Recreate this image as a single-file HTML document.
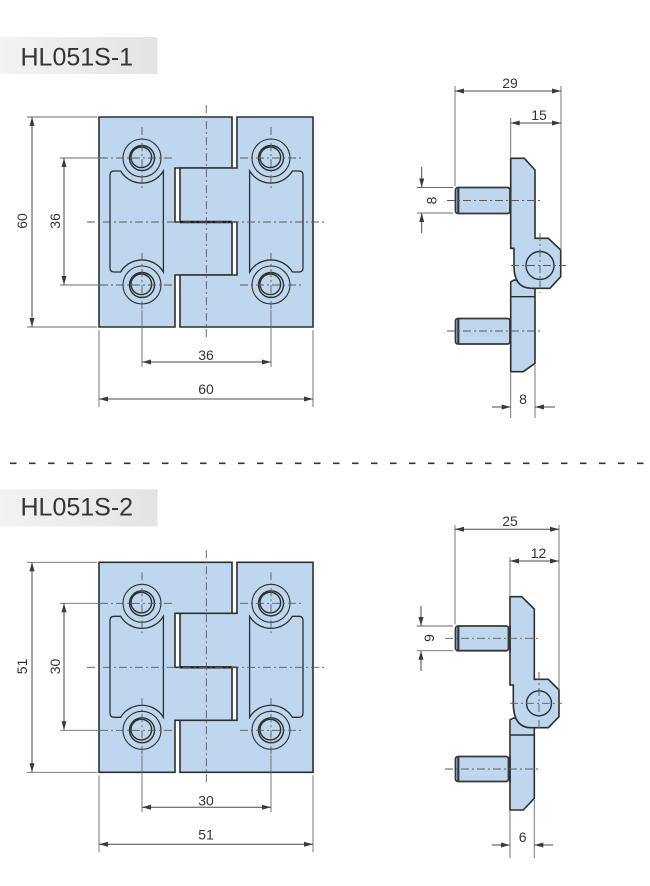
<!DOCTYPE html>
<html>
<head>
<meta charset="utf-8">
<style>
  html,body{margin:0;padding:0;background:#fff;}
  svg{display:block;}
  .part{fill:#bed7ef;stroke:#2e2e2e;stroke-width:1.6;stroke-linejoin:miter;}
  .pk{fill:none;stroke:#2e2e2e;stroke-width:1.3;}
  .hole{fill:none;stroke:#2e2e2e;stroke-width:1.1;}
  .hole2{fill:none;stroke:#2e2e2e;stroke-width:1.4;}
  .dim{stroke:#4a4a4a;stroke-width:1;fill:none;}
  .ext{stroke:#6a6a6a;stroke-width:0.9;fill:none;}
  .cl{stroke:#5a5a5a;stroke-width:0.9;fill:none;stroke-dasharray:8 3 2 3;}
  .ah{fill:#3a3a3a;stroke:none;}
  .t{font-family:"Liberation Sans",sans-serif;font-size:14px;fill:#333;}
  .lbl{font-family:"Liberation Sans",sans-serif;font-size:25px;fill:#333;}
  .screw{fill:#bed7ef;stroke:#383838;stroke-width:1.8;}
</style>
</head>
<body>
<svg width="650" height="886" viewBox="0 0 650 886" xmlns="http://www.w3.org/2000/svg">
  <defs>
    <linearGradient id="lg" x1="0" y1="0" x2="1" y2="0">
      <stop offset="0" stop-color="#f3f3f3"/>
      <stop offset="1" stop-color="#e3e3e3"/>
    </linearGradient>
    <g id="front">
      <!-- leaves -->
      <path class="part" d="M99,117 L232,117 L232,168 L175,168 L175,222 L232,222 L232,275 L175,275 L175,327 L99,327 Z"/>
      <path class="part" d="M237,117 L313,117 L313,327 L180,327 L180,275 L237,275 L237,222 L180,222 L180,168 L237,168 Z"/>
      <line x1="180" y1="222" x2="232" y2="222" stroke="#1e1e1e" stroke-width="2.4"/>
      <!-- pockets -->
      <path class="pk" d="M110,175 Q110,171 114,171 L120.6,171 A25 25 0 0 0 163.4,171 L163.4,272 A25 25 0 0 0 120.6,272 L114,272 Q110,272 110,268 Z"/>
      <path class="pk" d="M303,175 Q303,171 299,171 L292.4,171 A25 25 0 0 1 249.6,171 L249.6,272 A25 25 0 0 1 292.4,272 L299,272 Q303,272 303,268 Z"/>
      <!-- holes -->
      <g>
        <circle class="hole" cx="142" cy="158" r="19"/>
        <circle class="hole2" cx="142" cy="158" r="12.5"/>
        <circle class="hole2" cx="141.3" cy="157.3" r="10.3"/>
        <circle class="hole" cx="271" cy="158" r="19"/>
        <circle class="hole2" cx="271" cy="158" r="12.5"/>
        <circle class="hole2" cx="270.3" cy="157.3" r="10.3"/>
        <circle class="hole" cx="142" cy="285" r="19"/>
        <circle class="hole2" cx="142" cy="285" r="12.5"/>
        <circle class="hole2" cx="141.3" cy="284.3" r="10.3"/>
        <circle class="hole" cx="271" cy="285" r="19"/>
        <circle class="hole2" cx="271" cy="285" r="12.5"/>
        <circle class="hole2" cx="270.3" cy="284.3" r="10.3"/>
      </g>
      <!-- center lines -->
      <line class="cl" x1="206.3" y1="105" x2="206.3" y2="340"/>
      <line class="cl" x1="87" y1="222" x2="325" y2="222"/>
      <line class="cl" x1="100" y1="158" x2="172" y2="158"/>
      <line class="cl" x1="100" y1="285" x2="172" y2="285"/>
      <line class="cl" x1="240" y1="158" x2="302" y2="158"/>
      <line class="cl" x1="240" y1="285" x2="302" y2="285"/>
      <line class="cl" x1="142" y1="127" x2="142" y2="188"/>
      <line class="cl" x1="271" y1="127" x2="271" y2="188"/>
      <line class="cl" x1="142" y1="253" x2="142" y2="310"/>
      <line class="cl" x1="271" y1="253" x2="271" y2="310"/>
      <!-- extension lines -->
      <line class="ext" x1="27" y1="117" x2="97" y2="117"/>
      <line class="ext" x1="27" y1="327" x2="97" y2="327"/>
      <line class="ext" x1="60" y1="158" x2="100" y2="158"/>
      <line class="ext" x1="60" y1="285" x2="100" y2="285"/>
      <line class="ext" x1="142" y1="310" x2="142" y2="367"/>
      <line class="ext" x1="271" y1="310" x2="271" y2="367"/>
      <line class="ext" x1="99" y1="330" x2="99" y2="407"/>
      <line class="ext" x1="313" y1="330" x2="313" y2="407"/>
      <!-- dimension lines -->
      <line class="dim" x1="32" y1="117" x2="32" y2="327"/>
      <polygon class="ah" points="32,117 29.5,126 34.5,126"/>
      <polygon class="ah" points="32,327 29.5,318 34.5,318"/>
      <line class="dim" x1="64" y1="158" x2="64" y2="285"/>
      <polygon class="ah" points="64,158 61.5,167 66.5,167"/>
      <polygon class="ah" points="64,285 61.5,276 66.5,276"/>
      <line class="dim" x1="142" y1="362" x2="271" y2="362"/>
      <polygon class="ah" points="142,362 151,359.5 151,364.5"/>
      <polygon class="ah" points="271,362 262,359.5 262,364.5"/>
      <line class="dim" x1="99" y1="399" x2="313" y2="399"/>
      <polygon class="ah" points="99,399 108,396.5 108,401.5"/>
      <polygon class="ah" points="313,399 304,396.5 304,401.5"/>
    </g>
  </defs>

  <!-- ============ HL051S-1 ============ -->
  <rect x="0" y="37" width="157.5" height="37" fill="url(#lg)"/>
  <text class="lbl" x="20.5" y="65.7">HL051S-1</text>

  <use href="#front"/>
  <text class="t" transform="translate(27,221) rotate(-90)" text-anchor="middle">60</text>
  <text class="t" transform="translate(60,221) rotate(-90)" text-anchor="middle">36</text>
  <text class="t" x="206" y="360" text-anchor="middle">36</text>
  <text class="t" x="206" y="394" text-anchor="middle">60</text>

  <!-- side view S-1 -->
  <path class="part" d="M514,280 L510.7,282 L510.7,371.7 L523.3,371.7 L535,363.3 L535,284 Z"/>
  <line x1="510.7" y1="296.7" x2="535" y2="296.7" stroke="#2e2e2e" stroke-width="1.4"/>
  <path class="part" d="M510.7,158.3 L524.3,158.3 L535,170 L535,238.3 L548.3,238.3 L560.7,250 L560.7,276.7 L550,288.3 L531,288.3 Q514,288 514,266 L514,248.3 L510.7,248.3 Z"/>
  <circle class="hole2" cx="540" cy="265.5" r="14"/>
  <rect class="screw" x="455.5" y="187.5" width="54.5" height="26" rx="2.5"/>
  <line x1="458.3" y1="188" x2="458.3" y2="213" stroke="#383838" stroke-width="2.2"/>
  <rect class="screw" x="455.5" y="318.5" width="54.5" height="25.5" rx="2.5"/>
  <line x1="458.3" y1="319" x2="458.3" y2="343.5" stroke="#383838" stroke-width="2.2"/>
  <line x1="510.7" y1="187" x2="510.7" y2="214" stroke="#2e2e2e" stroke-width="1.6"/>
  <line x1="510.7" y1="318" x2="510.7" y2="344.5" stroke="#2e2e2e" stroke-width="1.6"/>
  <!-- centerlines -->
  <line class="cl" x1="447" y1="200.5" x2="541" y2="200.5"/>
  <line class="cl" x1="447" y1="331" x2="541" y2="331"/>
  <line class="cl" x1="511" y1="265.5" x2="566" y2="265.5"/>
  <line class="cl" x1="540" y1="233" x2="540" y2="293"/>
  <!-- dims -->
  <line class="ext" x1="455" y1="86" x2="455" y2="186"/>
  <line class="ext" x1="561" y1="86" x2="561" y2="250"/>
  <line class="ext" x1="510.7" y1="118" x2="510.7" y2="157"/>
  <line class="dim" x1="455" y1="91" x2="561" y2="91"/>
  <polygon class="ah" points="455,91 464,88.5 464,93.5"/>
  <polygon class="ah" points="561,91 552,88.5 552,93.5"/>
  <text class="t" x="510" y="88" text-anchor="middle">29</text>
  <line class="dim" x1="510.7" y1="123" x2="561" y2="123"/>
  <polygon class="ah" points="510.7,123 519.7,120.5 519.7,125.5"/>
  <polygon class="ah" points="561,123 552,120.5 552,125.5"/>
  <text class="t" x="539" y="120" text-anchor="middle">15</text>
  <line class="ext" x1="417" y1="187.5" x2="453" y2="187.5"/>
  <line class="ext" x1="417" y1="213" x2="453" y2="213"/>
  <line class="dim" x1="421.7" y1="167" x2="421.7" y2="187.5"/>
  <line class="dim" x1="421.7" y1="213" x2="421.7" y2="233"/>
  <polygon class="ah" points="421.7,187.5 419.2,178.5 424.2,178.5"/>
  <polygon class="ah" points="421.7,213 419.2,222 424.2,222"/>
  <text class="t" transform="translate(436.5,200.5) rotate(-90)" text-anchor="middle">8</text>
  <line class="ext" x1="510.7" y1="373" x2="510.7" y2="418"/>
  <line class="ext" x1="535" y1="365" x2="535" y2="418"/>
  <line class="dim" x1="492" y1="407" x2="510.7" y2="407"/>
  <line class="dim" x1="535" y1="407" x2="555" y2="407"/>
  <polygon class="ah" points="510.7,407 501.7,404.5 501.7,409.5"/>
  <polygon class="ah" points="535,407 544,404.5 544,409.5"/>
  <text class="t" x="523" y="404" text-anchor="middle">8</text>

  <!-- separator -->
  <line x1="10" y1="463.3" x2="645" y2="463.3" stroke="#333" stroke-width="1.6" stroke-dasharray="6.5 12.5"/>

  <!-- ============ HL051S-2 ============ -->
  <rect x="0" y="489.3" width="157.5" height="37" fill="url(#lg)"/>
  <text class="lbl" x="20.5" y="515.3">HL051S-2</text>

  <g transform="translate(0,445.3)">
    <use href="#front"/>
  </g>
  <text class="t" transform="translate(27,666.5) rotate(-90)" text-anchor="middle">51</text>
  <text class="t" transform="translate(60,666.5) rotate(-90)" text-anchor="middle">30</text>
  <text class="t" x="206" y="805.5" text-anchor="middle">30</text>
  <text class="t" x="206" y="839.5" text-anchor="middle">51</text>

  <!-- side view S-2 -->
  <path class="part" d="M513.3,718 L510,720 L510,810 L523.3,810 L534.3,798.3 L534.3,722 Z"/>
  <line x1="510" y1="735" x2="534.3" y2="735" stroke="#2e2e2e" stroke-width="1.4"/>
  <path class="part" d="M510,596.7 L521.7,596.7 L534.3,609 L534.3,679.3 L548.3,679.3 L559,690 L559,716.7 L548.3,727.7 L530,727.7 Q513.3,727 513.3,703 L513.3,685 L510,685 Z"/>
  <circle class="hole2" cx="539" cy="703.3" r="12.5"/>
  <rect class="screw" x="455.5" y="626" width="53" height="24.7" rx="2.5"/>
  <line x1="458.3" y1="626.5" x2="458.3" y2="650.2" stroke="#383838" stroke-width="2.2"/>
  <rect class="screw" x="455.5" y="756.5" width="53" height="25" rx="2.5"/>
  <line x1="458.3" y1="757" x2="458.3" y2="781" stroke="#383838" stroke-width="2.2"/>
  <line x1="510" y1="625.5" x2="510" y2="651.5" stroke="#2e2e2e" stroke-width="1.6"/>
  <line x1="510" y1="756" x2="510" y2="782" stroke="#2e2e2e" stroke-width="1.6"/>
  <!-- centerlines -->
  <line class="cl" x1="445" y1="638.3" x2="540" y2="638.3"/>
  <line class="cl" x1="445" y1="769" x2="540" y2="769"/>
  <line class="cl" x1="510" y1="703.3" x2="562" y2="703.3"/>
  <line class="cl" x1="539" y1="672" x2="539" y2="730"/>
  <!-- dims -->
  <line class="ext" x1="455" y1="525" x2="455" y2="624.5"/>
  <line class="ext" x1="559" y1="525" x2="559" y2="690"/>
  <line class="ext" x1="510" y1="557" x2="510" y2="595.5"/>
  <line class="dim" x1="455" y1="529.3" x2="559" y2="529.3"/>
  <polygon class="ah" points="455,529.3 464,526.8 464,531.8"/>
  <polygon class="ah" points="559,529.3 550,526.8 550,531.8"/>
  <text class="t" x="510" y="526" text-anchor="middle">25</text>
  <line class="dim" x1="510" y1="561" x2="559" y2="561"/>
  <polygon class="ah" points="510,561 519,558.5 519,563.5"/>
  <polygon class="ah" points="559,561 550,558.5 550,563.5"/>
  <text class="t" x="538.5" y="558" text-anchor="middle">12</text>
  <line class="ext" x1="416.7" y1="626" x2="453" y2="626"/>
  <line class="ext" x1="416.7" y1="650.7" x2="453" y2="650.7"/>
  <line class="dim" x1="421" y1="606" x2="421" y2="626"/>
  <line class="dim" x1="421" y1="650.7" x2="421" y2="671"/>
  <polygon class="ah" points="421,626 418.5,617 423.5,617"/>
  <polygon class="ah" points="421,650.7 418.5,659.7 423.5,659.7"/>
  <text class="t" transform="translate(434,638) rotate(-90)" text-anchor="middle">9</text>
  <line class="ext" x1="510" y1="811" x2="510" y2="858"/>
  <line class="ext" x1="534.3" y1="800" x2="534.3" y2="858"/>
  <line class="dim" x1="491.7" y1="845" x2="510" y2="845"/>
  <line class="dim" x1="534.3" y1="845" x2="553" y2="845"/>
  <polygon class="ah" points="510,845 501,842.5 501,847.5"/>
  <polygon class="ah" points="534.3,845 543.3,842.5 543.3,847.5"/>
  <text class="t" x="522.7" y="842" text-anchor="middle">6</text>
</svg>
</body>
</html>
